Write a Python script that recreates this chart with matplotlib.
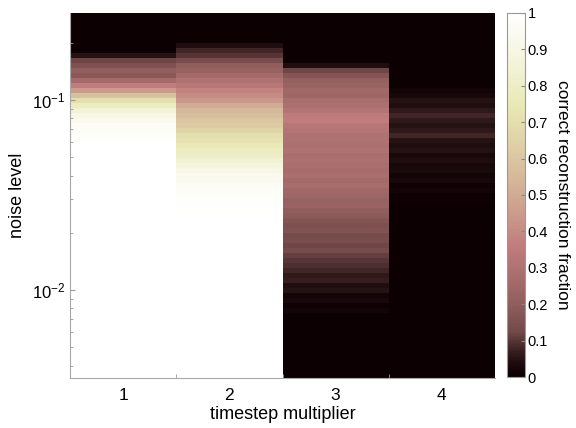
import numpy as np
import matplotlib.pyplot as plt
from matplotlib.colors import ListedColormap

plt.rcParams['font.family'] = ['Liberation Sans', 'DejaVu Sans']

# noise-level range of the grid (rows run from the top of the plot down)
NOISE_TOP = 0.287
NOISE_BOTTOM = 0.00344
NROWS = 73

multipliers = [1, 2, 3, 4]

# correct reconstruction fraction, one list per timestep multiplier, top row first
frac_1 = [0.0] * 8 + [
    0.05, 0.12, 0.15, 0.20, 0.18, 0.26, 0.36, 0.45, 0.58,
    0.70, 0.78, 0.85, 0.90, 0.93, 0.96, 0.97, 0.98, 0.99,
]
frac_2 = [0.0] * 6 + [
    0.04, 0.08, 0.10, 0.14, 0.20, 0.22, 0.26, 0.30, 0.33, 0.38,
    0.40, 0.44, 0.50, 0.55, 0.57, 0.60, 0.62, 0.66, 0.70, 0.72,
    0.76, 0.78, 0.80, 0.84, 0.88, 0.90, 0.93, 0.94, 0.96, 0.97,
    0.98, 0.99, 0.99, 0.995,
]
frac_3 = [0.0] * 10 + [
    0.04, 0.12, 0.17, 0.21, 0.23, 0.25, 0.24, 0.27, 0.29,
    0.31, 0.35, 0.36, 0.33, 0.31, 0.30, 0.30, 0.29, 0.30, 0.28,
    0.29, 0.28, 0.27, 0.28, 0.26, 0.27, 0.25, 0.24, 0.22, 0.23,
    0.20, 0.19, 0.17, 0.15, 0.16, 0.13, 0.14, 0.12, 0.13, 0.11,
    0.10, 0.09, 0.08, 0.06, 0.07, 0.04, 0.05, 0.02, 0.03, 0.01,
    0.02,
]
frac_4 = [0.0] * 15 + [
    0.02, 0.03, 0.05, 0.04, 0.06, 0.08, 0.06, 0.05, 0.06, 0.08,
    0.05, 0.04, 0.05, 0.03, 0.04, 0.03, 0.035, 0.02, 0.03, 0.015,
    0.02, 0.01, 0.01, 0.005,
]


def pad(col, fill):
    return col + [fill] * (NROWS - len(col))


grid = np.array([pad(frac_1, 1.0), pad(frac_2, 1.0),
                 pad(frac_3, 0.0), pad(frac_4, 0.0)]).T

y_edges = np.geomspace(NOISE_TOP, NOISE_BOTTOM, NROWS + 1)
x_edges = np.arange(len(multipliers) + 1) + 0.5

# pink colormap with a darker bottom end
colors = plt.get_cmap('pink')(np.linspace(0, 1, 256))
blend = np.clip(np.linspace(0, 1, 256) / 0.12, 0, 1)[:, None]
dark = np.array([0.05, 0.0, 0.01, 1.0])
colors = dark * (1 - blend) + colors * blend
cmap = ListedColormap(colors)

fig = plt.figure(figsize=(5.76, 4.28), dpi=100)
ax = fig.add_axes([0.1215, 0.1168, 0.738, 0.8528])
cax = fig.add_axes([0.880, 0.119, 0.031, 0.851])

mesh = ax.pcolormesh(x_edges, y_edges, grid, cmap=cmap, vmin=0, vmax=1,
                     shading='flat')
ax.set_yscale('log')
ax.set_ylim(NOISE_BOTTOM, NOISE_TOP)
ax.set_xlim(0.5, 4.5)
ax.set_xticks(multipliers)
ax.set_xticks([1.5, 2.5, 3.5], minor=True)
ax.tick_params(axis='x', which='major', length=0, labelsize=12.5, pad=7)
ax.tick_params(axis='x', which='minor', length=3, direction='in', color='#999999')
ax.tick_params(axis='y', which='both', direction='in', color='#999999', labelsize=12)
ax.tick_params(axis='y', which='minor', length=2)
ax.set_xlabel('timestep multiplier', fontsize=13, labelpad=2)
ax.set_ylabel('noise level', fontsize=13, labelpad=4)
for side in ['top', 'right']:
    ax.spines[side].set_visible(False)
for side in ['left', 'bottom']:
    ax.spines[side].set_color('#a8a8a8')
    ax.spines[side].set_linewidth(0.8)

cb = fig.colorbar(mesh, cax=cax)
cb.set_ticks(np.round(np.arange(0, 1.01, 0.1), 1))
cb.set_ticklabels(['0', '0.1', '0.2', '0.3', '0.4', '0.5', '0.6', '0.7', '0.8', '0.9', '1'])
cb.ax.tick_params(direction='in', length=3, color='#888888', labelsize=10.5, pad=2)
cb.outline.set_edgecolor('#999999')
cb.outline.set_linewidth(0.8)
cb.set_label('correct reconstruction fraction', rotation=270, fontsize=12.5, labelpad=16)

fig.savefig('out.png', dpi=100)
